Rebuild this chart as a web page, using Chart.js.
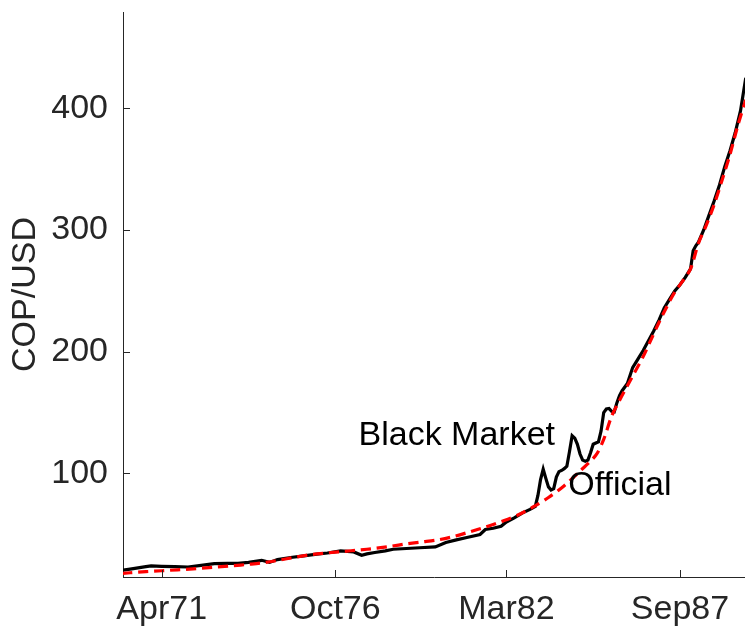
<!DOCTYPE html>
<html><head><meta charset="utf-8">
<script src="https://cdn.jsdelivr.net/npm/chart.js@4"></script>
<style>html,body{margin:0;padding:0;background:#fff}canvas{display:block}</style>
</head><body>
<canvas id="c" width="745" height="628"></canvas>
<script>
// ---- data ----
const blackDates = ['1970-01','1970-04','1970-07','1970-10','1970-12','1971-04','1971-09','1972-02','1972-07','1972-12',
 '1973-05','1973-09','1974-01','1974-06','1974-09','1974-12','1975-05','1975-10','1976-03','1976-07',
 '1976-12','1977-05','1977-08','1977-10','1978-01','1978-05','1978-08','1979-01','1979-06','1979-12',
 '1980-04','1980-08','1980-12','1981-05','1981-07','1981-10','1982-01','1982-03','1982-06','1982-09',
 '1982-12','1983-02','1983-03','1983-04','1983-05','1983-06','1983-07','1983-08','1983-09','1983-10',
 '1983-11','1983-12','1984-01','1984-02','1984-03','1984-04','1984-05','1984-06','1984-07','1984-08',
 '1984-09','1984-10','1984-11','1984-12','1985-01','1985-02','1985-03','1985-04','1985-05','1985-06',
 '1985-07','1985-08','1985-09','1985-10','1985-11','1986-01','1986-03','1986-05','1986-07','1986-09',
 '1986-11','1987-01','1987-03','1987-05','1987-07','1987-09','1987-11','1988-01','1988-02','1988-03',
 '1988-04','1988-06','1988-08','1988-10','1988-12','1989-02','1989-04','1989-06','1989-08','1989-10'];
const blackValues = [20.5,21.5,22.5,23.5,24.2,23.8,23.5,23.2,24.5,26.0,
 26.2,26.2,27.0,28.7,27.0,29.3,31.0,32.3,33.8,34.7,
 36.4,35.6,32.9,34.0,35.1,36.5,37.8,38.4,39.0,39.7,
 43.3,45.5,47.4,49.9,54.0,55.0,56.7,60.2,63.5,67.5,
 70.5,73.0,82,95,103.5,96,89,86.5,87.5,97,
 101.5,102.5,104,106,118,131,129,124,116,111,
 110,111,117,124,125,126,135,150,153,153.4,
 151,150.6,158,164,168,174,187,194,201,209,
 217,226,236,243,250,255,261,268,283,287,
 290,300,312,324,337,352,365,380,398,425];

const officialDates = ['1970-01','1970-07','1971-01','1971-07','1972-01','1972-07','1973-01','1973-07','1974-01','1974-07',
 '1975-01','1975-07','1976-01','1976-07','1977-01','1977-07','1978-01','1978-07','1979-01','1979-07',
 '1980-01','1980-07','1981-01','1981-07','1982-01','1982-07','1983-01','1983-07','1984-01','1984-07',
 '1985-01','1985-04','1985-07','1985-10','1986-01','1986-04','1986-07','1986-10','1987-01','1987-04',
 '1987-07','1987-10','1988-01','1988-04','1988-07','1988-10','1989-01','1989-04','1989-07','1989-10'];
const officialValues = [18.0,19.0,19.8,20.5,21.3,22.2,23.2,24.2,25.4,26.8,
 29.0,31.4,33.5,34.8,36.0,37.1,38.5,40.2,42.2,43.8,
 45.5,48.3,52.0,56.0,60.5,65.5,72.3,80.3,90.0,102,
 115,128,147,160,172,184,196,210,224,237,
 249,258,268,289,304,321,341,362,386,407];

const xTickDates = ['1971-04','1976-10','1982-03','1987-09'];
const xTickLabels = ['Apr71','Oct76','Mar82','Sep87'];
const yTickValues = [100,200,300,400];
const annotationTexts = ['Black Market','Official'];
const annotationDates = ['1977-06-25','1984-02-16'];
const annotationValues = [131.5,90.4];

// ---- helpers ----
function toM(s){ const p = s.split('-').map(Number); return (p[0]-1970)*12 + (p[1]-1) + (p[2] ? (p[2]-1)/30 : 0); }
const FONT = 'Liberation Sans, Arial, Helvetica, sans-serif';
const FS = 34;
const AXIS = '#262626';

const inwardTicks = {
  id:'inwardTicks',
  afterDraw(chart){
    const {ctx, chartArea:a, scales:{x, y}} = chart;
    ctx.save(); ctx.strokeStyle = AXIS; ctx.lineWidth = 1;
    x.ticks.forEach(t=>{ const px = Math.round(x.getPixelForValue(t.value))+0.5; ctx.beginPath(); ctx.moveTo(px, a.bottom); ctx.lineTo(px, a.bottom-7); ctx.stroke(); });
    y.ticks.forEach(t=>{ const py = Math.round(y.getPixelForValue(t.value))+0.5; ctx.beginPath(); ctx.moveTo(a.left, py); ctx.lineTo(a.left+7, py); ctx.stroke(); });
    ctx.restore();
  }
};
const textNotes = {
  id:'textNotes',
  afterDatasetsDraw(chart){
    const {ctx, scales:{x, y}} = chart;
    ctx.save(); ctx.font = FS + 'px ' + FONT; ctx.fillStyle = '#000'; ctx.textAlign = 'left'; ctx.textBaseline = 'middle';
    annotationTexts.forEach((t,i)=>{ ctx.fillText(t, x.getPixelForValue(toM(annotationDates[i])), y.getPixelForValue(annotationValues[i])); });
    ctx.restore();
  }
};

new Chart(document.getElementById('c'), {
  type:'line',
  data:{ datasets:[
    { label:'Black Market', data: blackDates.map((d,i)=>({x:toM(d), y:blackValues[i]})), borderColor:'#000000', borderWidth:3.2, pointRadius:0, tension:0, order:1, fill:false },
    { label:'Official', data: officialDates.map((d,i)=>({x:toM(d), y:officialValues[i]})), borderColor:'#ff0000', borderWidth:3.2, borderDash:[10,6], pointRadius:0, tension:0.3, order:0, fill:false }
  ]},
  options:{
    responsive:false, animation:false, devicePixelRatio:1,
    layout:{ padding:{ top:12, right:0, left:0, bottom:0 } },
    plugins:{ legend:{display:false}, tooltip:{enabled:false} },
    scales:{
      x:{ type:'linear', min:0.3, max:236.7,
          afterBuildTicks: s=>{ s.ticks = xTickDates.map(d=>({value:toM(d)})); },
          ticks:{ callback:(v,i)=>xTickLabels[i], autoSkip:false, maxRotation:0, font:{family:FONT, size:FS}, color:AXIS, padding:12 },
          grid:{ drawOnChartArea:false, drawTicks:false },
          border:{ display:true, color:AXIS, width:1 },
          afterFit: s=>{ s.height = 51; s.paddingLeft = 0; s.paddingRight = 0; } },
      y:{ type:'linear', min:15, max:479,
          afterBuildTicks: s=>{ s.ticks = yTickValues.map(v=>({value:v})); },
          ticks:{ font:{family:FONT, size:FS}, color:AXIS, padding:15 },
          grid:{ drawOnChartArea:false, drawTicks:false },
          border:{ display:true, color:AXIS, width:1 },
          title:{ display:true, text:'COP/USD', font:{family:FONT, size:FS}, color:AXIS, padding:{top:5, bottom:0} },
          afterFit: s=>{ s.width = 123; s.paddingTop = 0; s.paddingBottom = 0; } }
    }
  },
  plugins:[inwardTicks, textNotes]
});
</script>
</body></html>
